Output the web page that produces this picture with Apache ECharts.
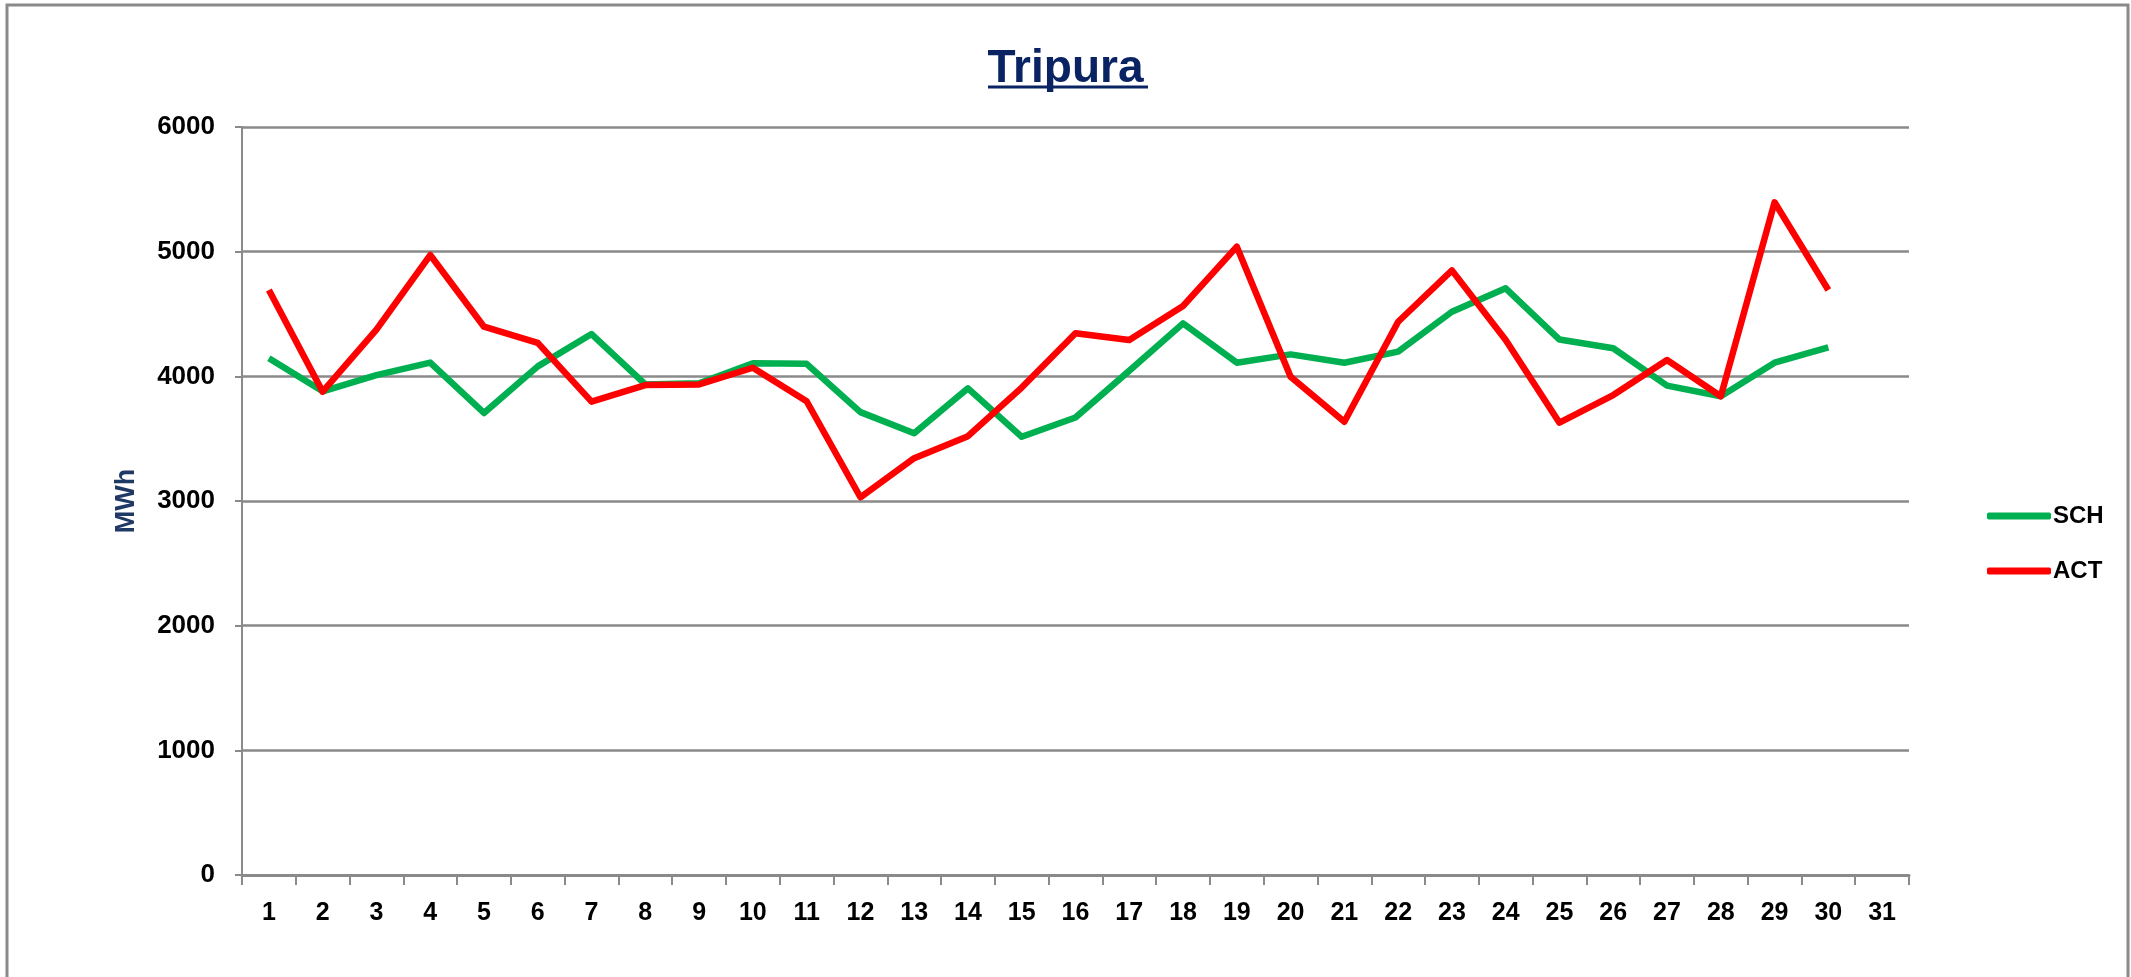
<!DOCTYPE html>
<html>
<head>
<meta charset="utf-8">
<script src="https://cdn.jsdelivr.net/npm/echarts@6/dist/echarts.min.js"></script>
<style>
html,body{margin:0;padding:0;background:#fff;}
#chart{width:2131px;height:977px;}
</style>
</head>
<body>
<div id="chart"></div>
<script>
const days = ['1','2','3','4','5','6','7','8','9','10','11','12','13','14','15','16','17','18','19','20','21','22','23','24','25','26','27','28','29','30','31'];
const yTicks = [0,1000,2000,3000,4000,5000,6000];
const schValues = [4145,3880,4010,4110,3706,4080,4339,3935,3945,4105,4100,3713,3543,3904,3515,3670,4045,4425,4109,4176,4109,4198,4518,4706,4295,4225,3925,3840,4109,4233];
const actValues = [4692,3877,4374,4973,4398,4268,3797,3930,3935,4069,3800,3030,3343,3520,3910,4345,4291,4564,5040,3997,3636,4438,4850,4291,3628,3850,4131,3840,5396,4692];
const seriesNames = ['SCH','ACT'];
const seriesColors = ['#00B050','#FF0000'];

const FONT = '"Liberation Sans", Arial, sans-serif';
const chart = echarts.init(document.getElementById('chart'), null, {renderer:'canvas'});
const option = {
  backgroundColor:'#ffffff',
  animation:false,
  title:{
    text:'Tripura',
    left:'center',
    top:41,
    textStyle:{fontFamily:FONT,fontWeight:'bold',fontSize:46,color:'#0A2463'}
  },
  graphic:[
    {type:'rect',shape:{x:7,y:5,width:2121,height:1010},style:{fill:'none',stroke:'#8a8a8a',lineWidth:3},silent:true,z:-1},
    {type:'line',shape:{x1:988,y1:87,x2:1148,y2:87},style:{stroke:'#0A2463',lineWidth:3},silent:true}
  ],
  legend:{
    orient:'vertical',
    left:1982,
    top:496,
    itemWidth:64,
    itemHeight:7,
    itemGap:25,
    icon:'roundRect',
    textStyle:{fontFamily:FONT,fontWeight:'bold',fontSize:24,color:'#000',lineHeight:30,padding:[0,0,0,-3]},
    data:seriesNames
  },
  grid:{left:242,right:222,top:127,bottom:102,containLabel:false},
  xAxis:{
    type:'category',
    data:days,
    boundaryGap:true,
    axisLine:{show:true,lineStyle:{color:'#8a8a8a',width:3}},
    axisTick:{show:true,length:10,alignWithLabel:false,lineStyle:{color:'#8a8a8a',width:2}},
    axisLabel:{margin:26,fontFamily:FONT,fontWeight:'bold',fontSize:25,color:'#000',interval:0},
    splitLine:{show:false}
  },
  yAxis:{
    type:'value',
    min:yTicks[0],
    max:yTicks[yTicks.length-1],
    interval:1000,
    name:'MWh',
    nameLocation:'middle',
    nameGap:102,
    nameRotate:90,
    nameTextStyle:{fontFamily:FONT,fontWeight:'bold',fontSize:27,color:'#1F3864'},
    axisLine:{show:true,lineStyle:{color:'#8a8a8a',width:2}},
    axisTick:{show:true,length:7,lineStyle:{color:'#8a8a8a',width:2}},
    axisLabel:{margin:27,fontFamily:FONT,fontWeight:'bold',fontSize:26,color:'#000',formatter:function(v){return String(v);}},
    splitLine:{show:true,lineStyle:{color:'#8a8a8a',width:2.5}}
  },
  series:[
    {name:seriesNames[0],type:'line',data:schValues,symbol:'none',lineStyle:{color:seriesColors[0],width:6.5,join:'round'},itemStyle:{color:seriesColors[0]},z:2},
    {name:seriesNames[1],type:'line',data:actValues,symbol:'none',lineStyle:{color:seriesColors[1],width:6.5,join:'round'},itemStyle:{color:seriesColors[1]},z:3}
  ]
};
chart.setOption(option);
</script>
</body>
</html>
